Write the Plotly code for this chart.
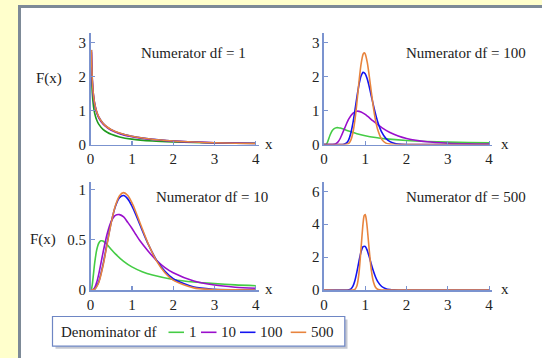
import plotly.graph_objects as go

# ---------------- data ----------------
DENOMS = ["1", "10", "100", "500"]
LEGEND_TITLE = "Denominator df"
NUM_TITLES = ["Numerator df = 1", "Numerator df = 100", "Numerator df = 10", "Numerator df = 500"]
X_TICKS = [0, 1, 2, 3, 4]
Y_TICKS_TOP = [0, 1, 2, 3]
Y_TICKS_BL = [0, 0.5, 1]
Y_TICKS_BR = [0, 2, 4, 6]

# Numerator df = 1
n1_x = [0.02, 0.04, 0.07, 0.1, 0.15, 0.2, 0.3, 0.4, 0.5, 0.7, 1, 1.5, 2, 2.5, 3, 3.5, 4]
n1_d1 = [2.207, 1.530, 1.124, 0.915, 0.715, 0.593, 0.447, 0.360, 0.300, 0.224, 0.159, 0.104, 0.075, 0.0575, 0.0459, 0.0378, 0.0318]
n1_d10 = [2.721, 1.903, 1.415, 1.165, 0.926, 0.780, 0.604, 0.496, 0.421, 0.321, 0.230, 0.147, 0.101, 0.072, 0.053, 0.040, 0.031]
n1_d100 = [2.786, 1.950, 1.452, 1.197, 0.953, 0.804, 0.625, 0.514, 0.438, 0.334, 0.241, 0.153, 0.104, 0.072, 0.052, 0.037, 0.028]
n1_d500 = [2.791, 1.954, 1.455, 1.199, 0.955, 0.807, 0.626, 0.516, 0.439, 0.336, 0.242, 0.154, 0.104, 0.072, 0.051, 0.037, 0.027]

# Numerator df = 100
n100_d1_x = [0, 0.05, 0.08, 0.1, 0.15, 0.2, 0.25, 0.3, 0.35, 0.4, 0.5, 0.6, 0.8, 1, 1.25, 1.5, 2, 2.5, 3, 3.5, 4]
n100_d1 = [0, 0.004, 0.049, 0.109, 0.282, 0.405, 0.470, 0.495, 0.496, 0.484, 0.443, 0.398, 0.318, 0.258, 0.204, 0.166, 0.117, 0.088, 0.069, 0.056, 0.047]
n100_d10_x = [0, 0.2, 0.25, 0.3, 0.35, 0.4, 0.5, 0.6, 0.7, 0.8, 0.9, 1.0, 1.2, 1.4, 1.6, 1.8, 2.0, 2.5, 3.0, 3.5, 4.0]
n100_d10 = [0, 0.001, 0.006, 0.031, 0.090, 0.192, 0.474, 0.747, 0.921, 0.983, 0.960, 0.886, 0.688, 0.500, 0.356, 0.252, 0.179, 0.080, 0.038, 0.019, 0.011]
n100_d100_x = [0, 0.45, 0.5, 0.55, 0.6, 0.65, 0.7, 0.75, 0.8, 0.85, 0.9, 0.95, 1.0, 1.05, 1.1, 1.15, 1.2, 1.3, 1.4, 1.5, 1.6, 1.7, 1.8, 2.0, 4.0]
n100_d100 = [0, 0.002, 0.012, 0.047, 0.138, 0.322, 0.614, 0.994, 1.403, 1.767, 2.021, 2.128, 2.089, 1.931, 1.696, 1.423, 1.150, 0.681, 0.365, 0.181, 0.085, 0.038, 0.016, 0.002, 0]
n100_d500_x = [0, 0.5, 0.55, 0.6, 0.65, 0.7, 0.75, 0.8, 0.85, 0.9, 0.95, 0.975, 1.0, 1.05, 1.1, 1.15, 1.2, 1.25, 1.3, 1.4, 1.5, 1.6, 1.7, 4.0]
n100_d500 = [0, 0.001, 0.007, 0.035, 0.123, 0.331, 0.708, 1.246, 1.850, 2.370, 2.666, 2.705, 2.674, 2.422, 2.003, 1.528, 1.083, 0.719, 0.450, 0.151, 0.042, 0.010, 0.002, 0]

# Numerator df = 10
n10_d1_x = [0, 0.01, 0.02, 0.04, 0.07, 0.1, 0.15, 0.2, 0.25, 0.3, 0.4, 0.5, 0.6, 0.8, 1, 1.25, 1.5, 2, 2.5, 3, 3.5, 4]
n10_d1 = [0, 0.001, 0.007, 0.050, 0.160, 0.272, 0.403, 0.468, 0.489, 0.487, 0.451, 0.404, 0.359, 0.285, 0.230, 0.182, 0.149, 0.105, 0.079, 0.063, 0.051, 0.043]
n10_x = [0, 0.05, 0.1, 0.15, 0.2, 0.3, 0.4, 0.5, 0.6, 0.7, 0.8, 0.9, 1.0, 1.1, 1.2, 1.4, 1.6, 1.8, 2.0, 2.5, 3.0, 3.5, 4.0]
n10_d10 = [0, 0.002, 0.024, 0.079, 0.163, 0.370, 0.558, 0.683, 0.743, 0.750, 0.727, 0.673, 0.615, 0.550, 0.487, 0.384, 0.292, 0.223, 0.171, 0.089, 0.049, 0.028, 0.017]
n10_d100 = [0, 0.001, 0.009, 0.040, 0.085, 0.252, 0.468, 0.675, 0.831, 0.919, 0.940, 0.907, 0.836, 0.744, 0.644, 0.451, 0.295, 0.185, 0.112, 0.029, 0.007, 0.002, 0.0004]
n10_d500 = [0, 0.001, 0.008, 0.036, 0.078, 0.239, 0.455, 0.670, 0.838, 0.939, 0.969, 0.940, 0.869, 0.772, 0.664, 0.455, 0.288, 0.172, 0.098, 0.021, 0.004, 0.001, 0.0001]

# Numerator df = 500 (only the two larger denominators are drawn)
n500_d100_x = [0, 0.55, 0.6, 0.65, 0.7, 0.75, 0.8, 0.85, 0.9, 0.95, 1.0, 1.05, 1.1, 1.15, 1.2, 1.25, 1.3, 1.4, 1.5, 1.6, 1.7, 1.8, 4]
n500_d100 = [0, 0.001, 0.010, 0.059, 0.216, 0.563, 1.113, 1.761, 2.322, 2.637, 2.648, 2.401, 2.000, 1.552, 1.135, 0.790, 0.527, 0.212, 0.077, 0.026, 0.009, 0.002, 0]
n500_d500_x = [0, 0.7, 0.75, 0.8, 0.85, 0.9, 0.95, 0.975, 1.0, 1.025, 1.05, 1.1, 1.15, 1.2, 1.25, 1.3, 1.35, 1.4, 4]
n500_d500 = [0, 0.002, 0.035, 0.257, 1.039, 2.550, 4.101, 4.525, 4.592, 4.313, 3.769, 2.367, 1.179, 0.481, 0.165, 0.048, 0.012, 0.003, 0]

# ---------------- styling ----------------
GREEN = "#45CC45"
GREEN_DARK = "#1F9A1F"
PURPLE = "#9A0FCC"
BLUE = "#1414F0"
ORANGE = "#E8843E"
SERIES_COLORS = [GREEN, PURPLE, BLUE, ORANGE]
AXIS = "#7B93CF"
FONT = "Liberation Serif"
TXT = "#222"
W, H = 542, 358
LW = 1.6

fig = go.Figure()


def add(x, y, color, axis_id, name):
    fig.add_trace(go.Scatter(
        x=x, y=y, mode="lines", name=name, showlegend=False,
        line=dict(color=color, width=LW, shape="spline", smoothing=0.8),
        xaxis="x" + axis_id, yaxis="y" + axis_id, hoverinfo="skip"))


# panel 1 (top-left)
add(n1_x, n1_d1, GREEN_DARK, "", DENOMS[0])
add(n1_x, n1_d10, PURPLE, "", DENOMS[1])
add(n1_x, n1_d100, BLUE, "", DENOMS[2])
add(n1_x, n1_d500, ORANGE, "", DENOMS[3])
# panel 2 (top-right)
add(n100_d1_x, n100_d1, GREEN, "2", DENOMS[0])
add(n100_d10_x, n100_d10, PURPLE, "2", DENOMS[1])
add(n100_d100_x, n100_d100, BLUE, "2", DENOMS[2])
add(n100_d500_x, n100_d500, ORANGE, "2", DENOMS[3])
# panel 3 (bottom-left)
add(n10_d1_x, n10_d1, GREEN, "3", DENOMS[0])
add(n10_x, n10_d10, PURPLE, "3", DENOMS[1])
add(n10_x, n10_d100, BLUE, "3", DENOMS[2])
add(n10_x, n10_d500, ORANGE, "3", DENOMS[3])
# panel 4 (bottom-right)
add(n500_d100_x, n500_d100, BLUE, "4", DENOMS[2])
add(n500_d500_x, n500_d500, ORANGE, "4", DENOMS[3])

XL = [90.6 / W, 259.1 / W]
XR = [323.9 / W, 492.4 / W]
YT = [1 - 144.5 / H, 1 - 33.3 / H]
YB = [1 - 290 / H, 1 - 181.5 / H]
TICKFONT = dict(family=FONT, size=15, color=TXT)


def xax(domain, anchor):
    return dict(domain=domain, anchor=anchor, range=[0, 4.08], tickvals=X_TICKS,
                showline=True, linecolor=AXIS, linewidth=1.5, ticks="inside", ticklen=4,
                tickcolor=AXIS, tickwidth=1.2, showgrid=False, zeroline=False,
                tickfont=TICKFONT, fixedrange=True, automargin=False)


def yax(domain, anchor, rng, vals):
    return dict(domain=domain, anchor=anchor, range=rng, tickvals=vals,
                showline=True, linecolor=AXIS, linewidth=1.5, ticks="inside", ticklen=4,
                tickcolor=AXIS, tickwidth=1.2, showgrid=False, zeroline=False,
                tickfont=TICKFONT, fixedrange=True, automargin=False)


annotations = []
def ann(text, x, y, xanchor="center"):
    annotations.append(dict(text=text, x=x, y=y, xref="paper", yref="paper", showarrow=False,
                            xanchor=xanchor, yanchor="middle",
                            font=dict(family=FONT, size=15, color=TXT)))


ann(NUM_TITLES[0], 193.5 / W, 1 - 53.3 / H)
ann(NUM_TITLES[1], 465.5 / W, 1 - 53.3 / H)
ann(NUM_TITLES[2], 212 / W, 1 - 196.7 / H)
ann(NUM_TITLES[3], 465.5 / W, 1 - 196.7 / H)
ann("F(x)", 49 / W, 1 - 79 / H)
ann("F(x)", 42.5 / W, 1 - 239 / H)
ann("x", 269 / W, 1 - 144 / H)
ann("x", 504.7 / W, 1 - 144 / H)
ann("x", 269 / W, 1 - 289 / H)
ann("x", 504.7 / W, 1 - 289 / H)

shapes = [
    # white panel with grey frame
    dict(type="rect", xref="paper", yref="paper", x0=19.5 / W, x1=1.05, y0=-0.05, y1=1 - 6.5 / H,
         fillcolor="white", line=dict(color="#7D8A97", width=3), layer="below"),
    # legend shadow + box
    dict(type="rect", xref="paper", yref="paper", x0=55.5 / W, x1=347.5 / W,
         y0=1 - 348.7 / H, y1=1 - 319.5 / H, fillcolor="#C5C8D2", line=dict(width=0)),
    dict(type="rect", xref="paper", yref="paper", x0=52.5 / W, x1=344.8 / W,
         y0=1 - 346.2 / H, y1=1 - 316.5 / H, fillcolor="white",
         line=dict(color="#6E86C4", width=1.2)),
]

# legend keys (short line + label), laid out left to right
LEG_Y = 1 - 332.3 / H
LEG_LINE_X0 = [168.5, 201.0, 240.0, 290.7]
LEG_LINE_LEN = 15.5
ann(LEGEND_TITLE, 58.5 / W, LEG_Y, xanchor="left")
for name, color, lx in zip(DENOMS, SERIES_COLORS, LEG_LINE_X0):
    shapes.append(dict(type="line", xref="paper", yref="paper", x0=lx / W, x1=(lx + LEG_LINE_LEN) / W,
                       y0=LEG_Y, y1=LEG_Y, line=dict(color=color, width=1.6)))
    ann(name, (lx + LEG_LINE_LEN + 2.5) / W, LEG_Y, xanchor="left")

fig.update_layout(
    width=W, height=H, margin=dict(l=0, r=0, t=0, b=0, autoexpand=False),
    paper_bgcolor="#FFFFCC", plot_bgcolor="white",
    xaxis=xax(XL, "y"), yaxis=yax(YT, "x", [0, 3.28], Y_TICKS_TOP),
    xaxis2=xax(XR, "y2"), yaxis2=yax(YT, "x2", [0, 3.28], Y_TICKS_TOP),
    xaxis3=xax(XL, "y3"), yaxis3=yax(YB, "x3", [0, 1.08], Y_TICKS_BL),
    xaxis4=xax(XR, "y4"), yaxis4=yax(YB, "x4", [0, 6.6], Y_TICKS_BR),
    annotations=annotations, shapes=shapes, showlegend=False,
)

fig.write_html(
    "out.html",
    config={"displayModeBar": False, "staticPlot": True},
    post_script="document.body.style.margin='0';document.body.style.padding='0';"
                "document.body.style.background='#FFFFCC';document.body.style.overflow='hidden';",
)
